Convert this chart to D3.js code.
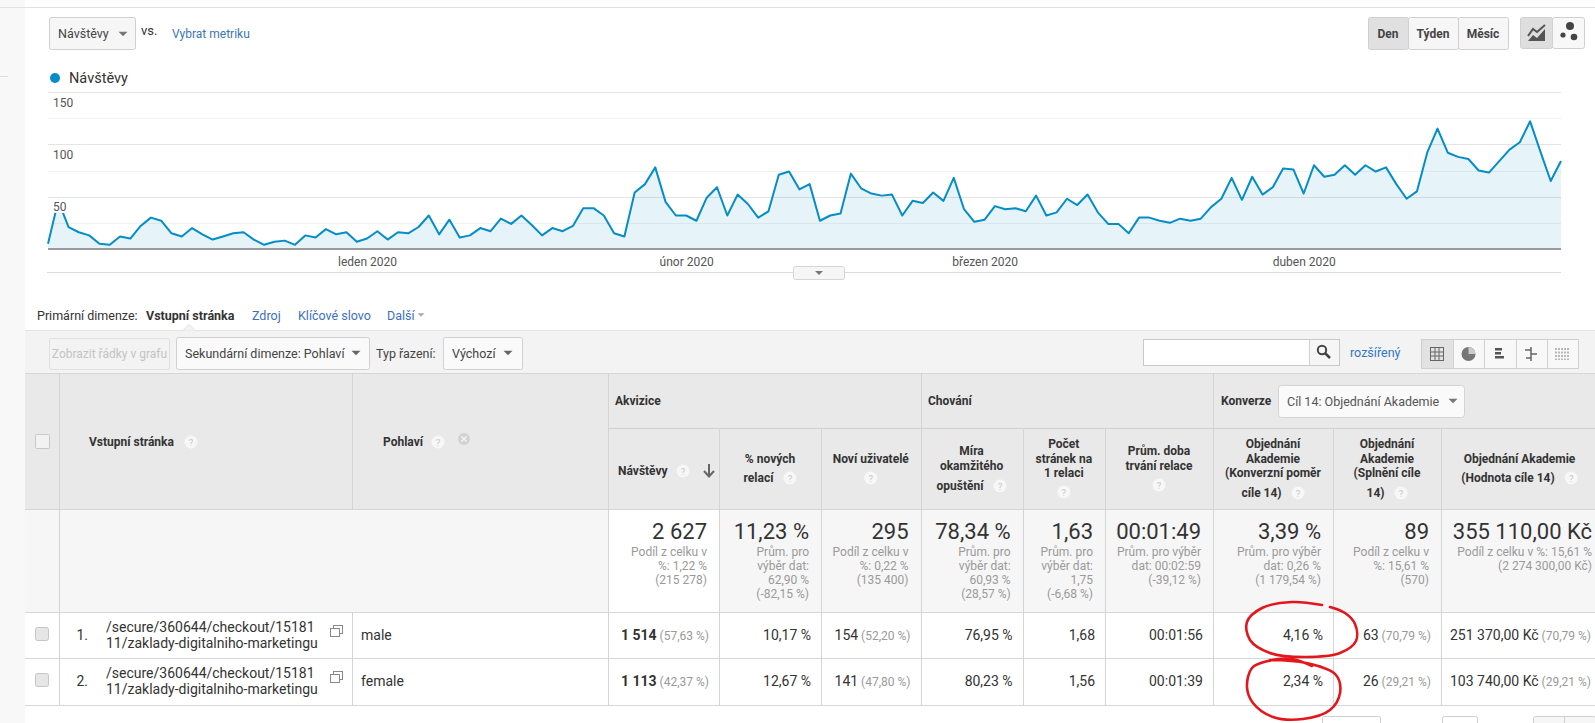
<!DOCTYPE html>
<html><head><meta charset="utf-8">
<script src="https://cdn.jsdelivr.net/npm/d3@7"></script>
<style>body{margin:0;background:#fff;overflow:hidden}svg{display:block}</style>
</head><body><script>
// ---------------- DATA ----------------
const seriesName = "Návštěvy";
const startDate = new Date(2019, 11, 1);
const endDate = new Date(2020, 3, 26);
const visits = [5,46,21,16,13,5,4,12,10,22,
 30,27,15,12,20,14,9,12,15,16,
 9,4,7,8,4,13,11,19,14,16,
 7,10,17,9,16,15,21,32,14,28,
 11,13,20,17,29,24,32,23,13,20,
 17,22,39,39,32,15,12,54,62,78,
 45,32,32,27,49,59,32,52,43,30,
 36,71,74,57,62,27,32,34,72,58,
 53,51,52,32,46,44,54,46,68,38,
 26,28,41,38,39,36,51,32,35,48,
 42,52,35,24,24,15,30,30,27,25,
 29,27,29,40,48,68,47,69,52,59,
 77,76,53,80,69,71,80,71,80,74,
 78,62,48,55,92,115,92,88,86,75,
 73,84,95,102,122,93,65,84];
const monthTickDates = [new Date(2020,0,1), new Date(2020,1,1), new Date(2020,2,1), new Date(2020,3,1)];
const monthTickLabels = ["leden 2020","únor 2020","březen 2020","duben 2020"];
const yTicks = [50, 100, 150];
const yMinorTicks = [25, 75, 125];

const periodButtons = ["Den","Týden","Měsíc"];
const groupHeaders = ["Akvizice","Chování","Konverze"];
const goalSelect = "Cíl 14: Objednání Akademie";
const colHeaders = [
  ["Návštěvy"],
  ["% nových","relací"],
  ["Noví uživatelé"],
  ["Míra","okamžitého","opuštění"],
  ["Počet","stránek na","1 relaci"],
  ["Prům. doba","trvání relace"],
  ["Objednání","Akademie","(Konverzní poměr","cíle 14)"],
  ["Objednání","Akademie","(Splnění cíle","14)"],
  ["Objednání Akademie","(Hodnota cíle 14)"]
];
const summaryMain = ["2 627","11,23 %","295","78,34 %","1,63","00:01:49","3,39 %","89","355 110,00 Kč"];
const summarySub = [
  ["Podíl z celku v","%: 1,22 %","(215 278)"],
  ["Prům. pro","výběr dat:","62,90 %","(-82,15 %)"],
  ["Podíl z celku v","%: 0,22 %","(135 400)"],
  ["Prům. pro","výběr dat:","60,93 %","(28,57 %)"],
  ["Prům. pro","výběr dat:","1,75","(-6,68 %)"],
  ["Prům. pro výběr","dat: 00:02:59","(-39,12 %)"],
  ["Prům. pro výběr","dat: 0,26 %","(1 179,54 %)"],
  ["Podíl z celku v","%: 15,61 %","(570)"],
  ["Podíl z celku v %: 15,61 %","(2 274 300,00 Kč)"]
];
const rowPage = ["/secure/360644/checkout/15181","11/zaklady-digitalniho-marketingu"];
const rowGender = ["male","female"];
const rowValues = [
  [["1 514","(57,63 %)"],["10,17 %"],["154","(52,20 %)"],["76,95 %"],["1,68"],["00:01:56"],["4,16 %"],["63","(70,79 %)"],["251 370,00 Kč","(70,79 %)"]],
  [["1 113","(42,37 %)"],["12,67 %"],["141","(47,80 %)"],["80,23 %"],["1,56"],["00:01:39"],["2,34 %"],["26","(29,21 %)"],["103 740,00 Kč","(29,21 %)"]]
];

// ---------------- HELPERS ----------------
const W = 1595, H = 723;
const FONT = "Roboto, 'Noto Sans', Arial, sans-serif";
const svg = d3.select("body").append("svg").attr("width", W).attr("height", H).attr("font-family", FONT);
function txt(x, y, s, o = {}) {
  const t = svg.append("text").attr("x", x).attr("y", y).attr("font-size", o.size || 13)
    .attr("fill", o.fill || "#333").text(s);
  if (o.weight) t.attr("font-weight", o.weight);
  if (o.anchor) t.attr("text-anchor", o.anchor);
  return t;
}
function rect(x, y, w, h, o = {}) {
  return svg.append("rect").attr("x", x).attr("y", y).attr("width", w).attr("height", h)
    .attr("fill", o.fill || "none").attr("stroke", o.stroke || "none").attr("stroke-width", o.sw || 1).attr("rx", o.rx || 0);
}
function ln(x1, y1, x2, y2, c, w) {
  return svg.append("line").attr("x1", x1).attr("y1", y1).attr("x2", x2).attr("y2", y2)
    .attr("stroke", c || "#ddd").attr("stroke-width", w || 1);
}
function caret(cx, cy, s, c) {
  svg.append("path").attr("d", `M${cx - s},${cy - s / 2}L${cx + s},${cy - s / 2}L${cx},${cy + s / 2}Z`).attr("fill", c || "#777");
}
function help(cx, cy) {
  svg.append("circle").attr("cx", cx).attr("cy", cy).attr("r", 6.5).attr("fill", "#f7f7f7");
  txt(cx, cy + 3.5, "?", { size: 9.5, fill: "#c8c8c8", anchor: "middle" });
}

// ---------------- PAGE CHROME ----------------
rect(0, 0, 25, H, { fill: "#f8f8f8" });
ln(0, 76.5, 8, 76.5, "#ddd");
ln(0, 7.5, W, 7.5, "#e2e2e2");

// metric dropdown
rect(49.5, 17.5, 86, 32, { fill: "#f6f6f6", stroke: "#cfcfcf", rx: 2 });
txt(58, 38, "Návštěvy", { size: 12.5, fill: "#444" });
caret(123, 34, 4.5, "#777");
txt(141, 35, "vs.", { size: 13, fill: "#333" });
txt(172, 38, "Vybrat metriku", { size: 12, fill: "#3a76b4" });

// period buttons
const pbX = [1368, 1408, 1458, 1508];
periodButtons.forEach((b, i) => {
  rect(pbX[i] + 0.5, 17.5, pbX[i + 1] - pbX[i], 32, { fill: i === 0 ? "#e0e0e0" : "#f6f6f6", stroke: "#d0d0d0", rx: 2 });
  txt((pbX[i] + pbX[i + 1]) / 2, 38, b, { size: 12, weight: 700, fill: "#444", anchor: "middle" });
});
// chart type buttons
rect(1520.5, 17.5, 32, 31, { fill: "#dedede", stroke: "#d0d0d0", rx: 2 });
rect(1552.5, 17.5, 32, 31, { fill: "#f8f8f8", stroke: "#d0d0d0", rx: 2 });
svg.append("path").attr("d", "M1528,41L1533,35L1537,38L1545,29L1545,41Z").attr("fill", "#555");
svg.append("path").attr("d", "M1528,36L1533,29L1537,32L1545,25").attr("fill", "none").attr("stroke", "#555").attr("stroke-width", 2);
svg.append("circle").attr("cx", 1570).attr("cy", 26).attr("r", 4).attr("fill", "#444");
svg.append("circle").attr("cx", 1563).attr("cy", 35).attr("r", 2.6).attr("fill", "#444");
svg.append("circle").attr("cx", 1574).attr("cy", 37).attr("r", 3.3).attr("fill", "#444");

// legend
svg.append("circle").attr("cx", 55).attr("cy", 78).attr("r", 5).attr("fill", "#058dc7");
txt(69, 83, seriesName, { size: 14.5, fill: "#333" });

// ---------------- CHART ----------------
const days = d3.timeDay.range(startDate, d3.timeDay.offset(endDate, 1));
const data = days.map((d, i) => ({ date: d, value: visits[i] }));
const x = d3.scaleTime().domain([startDate, endDate]).range([48, 1561]);
const y = d3.scaleLinear().domain([0, 150]).range([249, 92]);

const grid = svg.append("g");
grid.selectAll("line.minor").data(yMinorTicks).join("line").attr("class", "minor")
  .attr("x1", 48).attr("x2", 1561).attr("y1", d => Math.round(y(d)) + 0.5).attr("y2", d => Math.round(y(d)) + 0.5)
  .attr("stroke", "#f1f1f1");
grid.selectAll("line.major").data(yTicks).join("line").attr("class", "major")
  .attr("x1", 48).attr("x2", 1561).attr("y1", d => Math.round(y(d)) + 0.5).attr("y2", d => Math.round(y(d)) + 0.5)
  .attr("stroke", "#e4e4e4");

svg.append("path").datum(data)
  .attr("d", d3.area().x(d => x(d.date)).y0(y(0)).y1(d => y(d.value)))
  .attr("fill", "#058dc7").attr("fill-opacity", 0.1);
svg.append("path").datum(data)
  .attr("d", d3.line().x(d => x(d.date)).y(d => y(d.value)))
  .attr("fill", "none").attr("stroke", "#058dc7").attr("stroke-width", 2).attr("stroke-linejoin", "round");

// baseline
ln(48, 249, 1561, 249, "#9a9a9a", 2);

// y axis labels
const yAxis = svg.append("g").attr("transform", "translate(48,0)")
  .call(d3.axisRight(y).tickValues(yTicks).tickSize(0));
yAxis.select(".domain").remove();
yAxis.selectAll("text").attr("x", 5).attr("dy", 14).attr("font-size", 12).attr("fill", "#555")
  .attr("font-family", FONT).attr("stroke", "#fff").attr("stroke-width", 4).attr("paint-order", "stroke");

// x axis labels
const xAxis = svg.append("g").attr("transform", "translate(0,249)")
  .call(d3.axisBottom(x).tickValues(monthTickDates).tickSize(0).tickPadding(8)
    .tickFormat((d, i) => monthTickLabels[i]));
xAxis.select(".domain").remove();
xAxis.selectAll("text").attr("font-size", 12).attr("fill", "#555").attr("font-family", FONT);

// bottom border with collapse tab
ln(47, 272.5, 1561, 272.5, "#dcdcdc");
rect(793.5, 266.5, 51, 13, { fill: "#f6f6f6", stroke: "#d6d6d6", rx: 2 });
caret(819, 273, 4, "#777");

// ---------------- PRIMARY DIMENSION / TOOLBAR ----------------
txt(37, 320, "Primární dimenze:", { size: 12.5, fill: "#333" });
txt(146, 320, "Vstupní stránka", { size: 12.5, weight: 700, fill: "#333" });
txt(252, 320, "Zdroj", { size: 12.5, fill: "#3b6fc2" });
txt(298, 320, "Klíčové slovo", { size: 12.5, fill: "#3b6fc2" });
txt(387, 320, "Další", { size: 12.5, fill: "#3b6fc2" });
caret(421, 315, 3.5, "#aaa");

rect(25, 330, W - 25, 43, { fill: "#f3f3f3" });
ln(25, 330.5, W, 330.5, "#e4e4e4");
svg.append("path").attr("d", "M183,330.5L189,324.5L195,330.5").attr("fill", "#f3f3f3").attr("stroke", "#e0e0e0");

rect(49.5, 338.5, 120, 31, { fill: "#f3f3f3", stroke: "#e0e0e0", rx: 2 });
txt(109.5, 358, "Zobrazit řádky v grafu", { size: 12, fill: "#c3c3c3", anchor: "middle" });
rect(176.5, 337.5, 193, 32, { fill: "#fafafa", stroke: "#d0d0d0", rx: 2 });
txt(185, 358, "Sekundární dimenze: Pohlaví", { size: 12.5, fill: "#444" });
caret(356, 353, 4.5, "#666");
txt(376, 358, "Typ řazení:", { size: 12.5, fill: "#444" });
rect(443.5, 337.5, 79, 32, { fill: "#fafafa", stroke: "#d0d0d0", rx: 2 });
txt(452, 358, "Výchozí", { size: 12.5, fill: "#444" });
caret(508, 353, 4.5, "#666");

// search
rect(1143.5, 339.5, 196, 26, { fill: "#fff", stroke: "#c8c8c8" });
ln(1309.5, 340, 1309.5, 365, "#d0d0d0");
rect(1310, 340, 29, 25, { fill: "#f6f6f6" });
svg.append("circle").attr("cx", 1322).attr("cy", 350).attr("r", 4.2).attr("fill", "none").attr("stroke", "#444").attr("stroke-width", 2);
ln(1325, 353, 1330, 358, "#444", 2.5);
txt(1350, 357, "rozšířený", { size: 12.5, fill: "#2f77c4" });
// view buttons
const vbX = [1421, 1453, 1484, 1516, 1547, 1578];
for (let i = 0; i < 5; i++) {
  rect(vbX[i] + 0.5, 339.5, vbX[i + 1] - vbX[i], 29, { fill: i === 0 ? "#e2e2e2" : "#f8f8f8", stroke: "#d0d0d0" });
}
{ // icons
  const cx = 1437, cy = 354;
  rect(cx - 6.5, cy - 6.5, 13, 13, { stroke: "#666" });
  ln(cx - 2, cy - 6.5, cx - 2, cy + 6.5, "#666"); ln(cx + 2, cy - 6.5, cx + 2, cy + 6.5, "#666");
  ln(cx - 6.5, cy - 2, cx + 6.5, cy - 2, "#666"); ln(cx - 6.5, cy + 2, cx + 6.5, cy + 2, "#666");
  svg.append("circle").attr("cx", 1468.5).attr("cy", 354).attr("r", 7).attr("fill", "#777");
  svg.append("path").attr("d", "M1468.5,354L1468.5,347A7,7 0 0 1 1475.5,354Z").attr("fill", "#ccc");
  [[-5,7],[-1,6],[3,9]].forEach(([dy, w]) => rect(1495, 354 + dy - 1, w, 2.5, { fill: "#555" }));
  ln(1531, 347, 1531, 361, "#666", 1.5); ln(1525, 350, 1531, 350, "#666", 1.5);
  ln(1531, 354, 1537, 354, "#666", 1.5); ln(1526, 358, 1531, 358, "#666", 1.5);
  for (let k = 0; k < 5; k++) ln(1556 + k * 3, 348, 1556 + k * 3, 360, "#777", 1).attr("stroke-dasharray", "2,1.5");
}

// ---------------- TABLE ----------------
const edges = [608, 719, 821, 920.5, 1022.6, 1105, 1213, 1333, 1441, 1598];
const TOP = 373, GROUPB = 428, HEADB = 509, SUMB = 612, R1B = 658, R2B = 705;

rect(25, TOP, W - 25, HEADB - TOP, { fill: "#e9e9e9" });
rect(25, HEADB, W - 25, SUMB - HEADB, { fill: "#f6f6f6" });
rect(edges[0], HEADB, edges[1] - edges[0], SUMB - HEADB, { fill: "#fff" });

ln(25, TOP + 0.5, W, TOP + 0.5, "#d6d6d6");
ln(edges[0], GROUPB + 0.5, W, GROUPB + 0.5, "#d0d0d0");
[HEADB, SUMB, R1B, R2B].forEach(yy => ln(25, yy + 0.5, W, yy + 0.5, "#d6d6d6"));

ln(59.5, TOP, 59.5, R2B, "#d4d4d4");
ln(352.5, TOP, 352.5, HEADB, "#d4d4d4");
ln(352.5, SUMB, 352.5, R2B, "#d4d4d4");
[608, 920.5, 1213].forEach(xx => ln(Math.round(xx) + 0.5, TOP, Math.round(xx) + 0.5, R2B, "#d4d4d4"));
[719, 821, 1022.6, 1105, 1333, 1441].forEach(xx => ln(Math.round(xx) + 0.5, GROUPB, Math.round(xx) + 0.5, R2B, "#d4d4d4"));

rect(35.5, 434.5, 14, 14, { fill: "#f2f2f2", stroke: "#c8c8c8", rx: 1 });
txt(89, 446, "Vstupní stránka", { size: 12, weight: 700, fill: "#333" });
help(191, 442);
txt(383, 446, "Pohlaví", { size: 12, weight: 700, fill: "#333" });
help(438, 442);
svg.append("circle").attr("cx", 464).attr("cy", 439).attr("r", 6).attr("fill", "#d2d2d2");
ln(461.5, 436.5, 466.5, 441.5, "#f4f4f4", 1.5); ln(466.5, 436.5, 461.5, 441.5, "#f4f4f4", 1.5);

txt(615, 405, groupHeaders[0], { size: 12, weight: 700, fill: "#333" });
txt(928, 405, groupHeaders[1], { size: 12, weight: 700, fill: "#333" });
txt(1221, 405, groupHeaders[2], { size: 12, weight: 700, fill: "#333" });
rect(1278.5, 385.5, 186, 32, { fill: "#fafafa", stroke: "#d4d4d4", rx: 3 });
txt(1287, 406, goalSelect, { size: 12.5, fill: "#555" });
caret(1453, 401, 4.5, "#777");

txt(618, 475, colHeaders[0][0], { size: 12, weight: 700, fill: "#333" });
help(683, 471);
svg.append("path").attr("d", "M709,464L709,476M704,471L709,476.5L714,471").attr("fill", "none").attr("stroke", "#666").attr("stroke-width", 2);

const headLayout = [
  null,
  { ys: [463, 482], help: "inline" },
  { ys: [463], help: 478 },
  { ys: [455, 470, 490], help: "inline" },
  { ys: [448, 463, 477], help: 492 },
  { ys: [455, 470], help: 485 },
  { ys: [448, 463, 477, 497], help: "inline" },
  { ys: [448, 463, 477, 497], help: "inline" },
  { ys: [463, 482], help: "inline" }
];
colHeaders.forEach((lines, c) => {
  if (c === 0) return;
  const lay = headLayout[c];
  const cx = (edges[c] + Math.min(edges[c + 1], 1598)) / 2;
  lines.forEach((s, k) => {
    const isLast = k === lines.length - 1;
    if (isLast && lay.help === "inline") {
      const t = txt(0, lay.ys[k], s, { size: 12, weight: 700, fill: "#333" });
      const w = t.node().getComputedTextLength();
      const total = w + 10 + 13;
      const x0 = cx - total / 2;
      t.attr("x", x0);
      help(x0 + w + 16.5, lay.ys[k] - 4);
    } else {
      txt(cx, lay.ys[k], s, { size: 12, weight: 700, fill: "#333", anchor: "middle" });
    }
  });
  if (typeof lay.help === "number") help(cx, lay.help);
});

// summary row
summaryMain.forEach((s, c) => {
  const rx = c === 8 ? 1592 : edges[c + 1] - 12;
  txt(rx, 539, s, { size: 22, fill: "#333", anchor: "end" });
  summarySub[c].forEach((t, k) => txt(rx, 556 + k * 14, t, { size: 12, fill: "#9a9a9a", anchor: "end" }));
});

// data rows
const rowMid = [635, 681];
rowValues.forEach((vals, r) => {
  const cy = rowMid[r];
  rect(35.5, cy - 7.5, 13, 13, { fill: "#e6e6e6", stroke: "#c6c6c6", rx: 2 });
  txt(88, cy + 5, (r + 1) + ".", { size: 14, fill: "#333", anchor: "end" });
  txt(106, cy - 3, rowPage[0], { size: 14, fill: "#333" });
  txt(106, cy + 13, rowPage[1], { size: 14, fill: "#333" });
  rect(333.5, cy - 9.5, 9, 8, { fill: "#fff", stroke: "#888" });
  rect(330.5, cy - 6.5, 9, 8, { fill: "#fff", stroke: "#888" });
  txt(361, cy + 5, rowGender[r], { size: 14, fill: "#333" });
  vals.forEach((v, c) => {
    if (c === 8) {
      const t = txt(1450, cy + 5, null, { size: 14, fill: "#333" });
      t.append("tspan").text(v[0]);
      t.append("tspan").attr("font-size", 12).attr("fill", "#9a9a9a").text(" " + v[1]);
      return;
    }
    const t = txt(edges[c + 1] - 10, cy + 5, null, { size: 14, fill: "#333", anchor: "end" });
    t.append("tspan").attr("font-weight", c === 0 ? 700 : 400).text(v[0]);
    if (v[1]) t.append("tspan").attr("font-size", 12).attr("fill", "#9a9a9a").text(" " + v[1]);
  });
});

// pagination (partially visible)
rect(1322.5, 716.5, 58, 20, { fill: "#fff", stroke: "#cfcfcf", rx: 2 });
rect(1442.5, 716.5, 35, 20, { fill: "#fff", stroke: "#cfcfcf", rx: 2 });
rect(1533.5, 716.5, 62, 20, { fill: "#f6f6f6", stroke: "#cfcfcf", rx: 2 });
ln(1564.5, 717, 1564.5, 723, "#cfcfcf");

// red hand-drawn annotations
const curve = d3.line().curve(d3.curveCatmullRom.alpha(0.5));
const ring1 = [[1322,605],[1292,602],[1262,608],[1247,622],[1250,640],[1270,653],[1305,657],[1340,653],[1356,641],[1355,624],[1345,613],[1330,607]];
const ring2 = [[1270,660],[1306,663],[1336,675],[1340,693],[1330,710],[1303,719],[1273,717],[1253,703],[1247,687],[1252,668],[1268,661],[1292,659],[1312,666]];
[ring1, ring2].forEach(p => svg.append("path").attr("d", curve(p)).attr("fill", "none")
  .attr("stroke", "#e3161c").attr("stroke-width", 2.6).attr("stroke-linecap", "round"));
</script></body></html>
